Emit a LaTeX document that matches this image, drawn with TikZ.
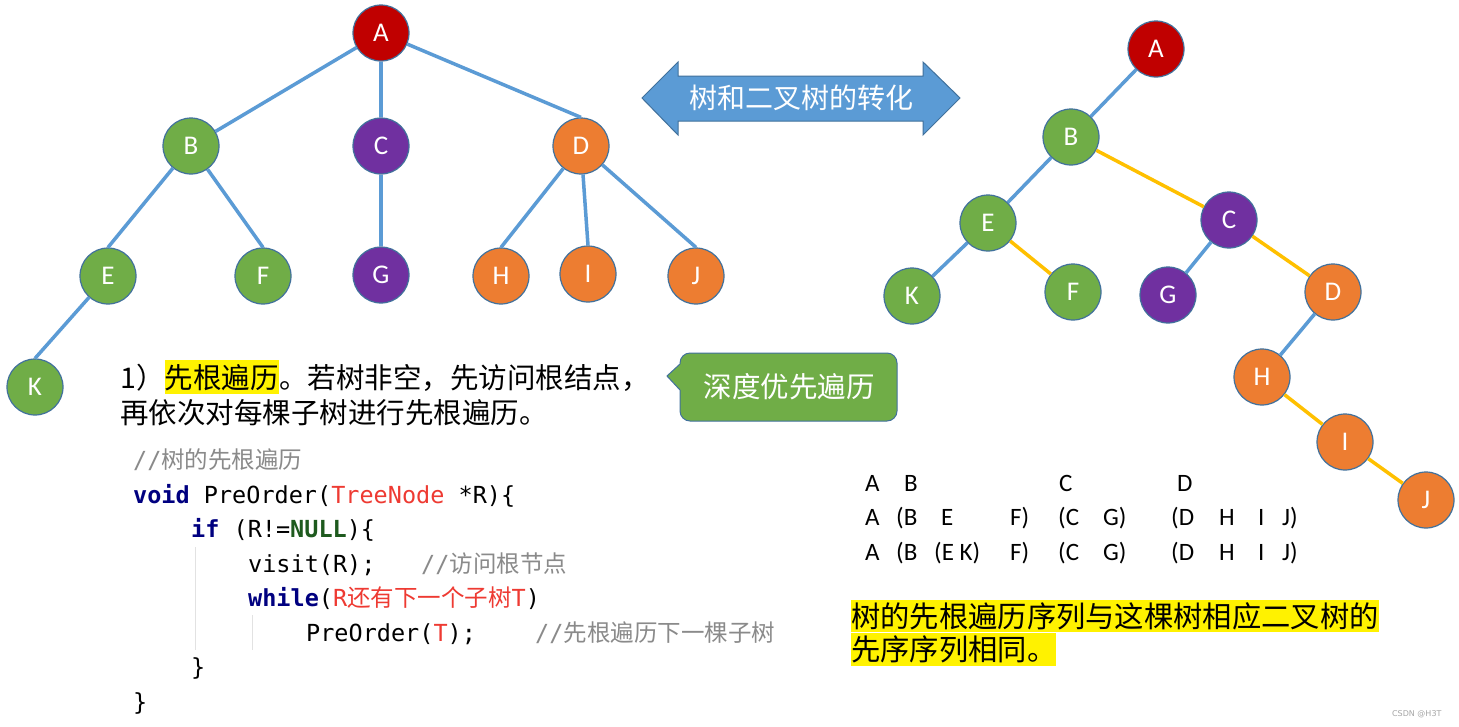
\documentclass[tikz,border=0pt]{standalone}
\usepackage{fontspec}
\newfontfamily\cjk{Noto Sans CJK SC}
\newfontfamily\calibri{Carlito}
\newfontfamily\wmfont{DejaVu Sans}
\setmonofont{DejaVu Sans Mono}

\definecolor{nodeblue}{HTML}{41719C}
\definecolor{edgeblue}{HTML}{5B9BD5}
\definecolor{edgegold}{HTML}{FFC000}
\definecolor{nodered}{HTML}{C00000}
\definecolor{nodegreen}{HTML}{70AD47}
\definecolor{nodepurple}{HTML}{7030A0}
\definecolor{nodeorange}{HTML}{ED7D31}
\definecolor{kw}{HTML}{000080}
\definecolor{cgreen}{HTML}{1E5A1E}
\definecolor{cred}{HTML}{EE3A32}
\definecolor{cgray}{HTML}{8A8A8A}
\definecolor{guide}{HTML}{E2E2E2}

\tikzset{
  tnode/.style={circle, draw=nodeblue, line width=1.2pt, minimum size=56pt,
    inner sep=0pt, text=white, font=\calibri\fontsize{27}{27}\selectfont},
  rnode/.style={tnode, fill=nodered},
  gnode/.style={tnode, fill=nodegreen},
  pnode/.style={tnode, fill=nodepurple},
  onode/.style={tnode, fill=nodeorange},
  link/.style={draw=edgeblue, line width=3.5pt},
  rlink/.style={draw=edgegold, line width=3.5pt},
  code/.style={anchor=base west, inner sep=0pt, font=\ttfamily\fontsize{23.5}{28}\selectfont},
  seq/.style={anchor=base west, inner sep=0pt, font=\calibri\fontsize{25}{25}\selectfont},
  cn/.style={anchor=base west, inner sep=0pt, font=\cjk\fontsize{28.5}{34}\selectfont},
}

\begin{document}
\begin{tikzpicture}[x=1pt, y=-1pt]
    \useasboundingbox[fill=white] (0,0) rectangle (1459,726);

    % tree
    \node[rnode] (A) at (381,33) {A};
    \node[gnode] (B) at (191,146) {B};
    \node[pnode] (C) at (381,146) {C};
    \node[onode] (D) at (581,146) {D};
    \node[gnode] (E) at (108,276) {E};
    \node[gnode] (F) at (263,276) {F};
    \node[pnode] (G) at (381,275) {G};
    \node[onode] (H) at (501,276) {H};
    \node[onode] (I) at (588,274) {I};
    \node[onode] (J) at (696,276) {J};
    \node[gnode] (K) at (35,387) {K};
    \draw[link] (A) -- (B);
    \draw[link] (A) -- (C);
    \draw[link] (A) -- (D.north);
    \draw[link] (B) -- (E.north);
    \draw[link] (B) -- (F.north);
    \draw[link] (C) -- (G);
    \draw[link] (D) -- (H.north);
    \draw[link] (D) -- (I.north);
    \draw[link] (D) -- (J.north);
    \draw[link] (E) -- (K.north);

    % binary tree
    \node[rnode] (bA) at (1156,49) {A};
    \node[gnode] (bB) at (1071,137) {B};
    \node[gnode] (bE) at (988,223) {E};
    \node[pnode] (bC) at (1229,220) {C};
    \node[gnode] (bK) at (912,296) {K};
    \node[gnode] (bF) at (1073,292) {F};
    \node[pnode] (bG) at (1168,295) {G};
    \node[onode] (bD) at (1333,292) {D};
    \node[onode] (bH) at (1262,377) {H};
    \node[onode] (bI) at (1345,442) {I};
    \node[onode] (bJ) at (1426,500) {J};
    \draw[link] (bA) -- (bB);
    \draw[link] (bB) -- (bE);
    \draw[rlink] (bB) -- (bC);
    \draw[link] (bE) -- (bK);
    \draw[rlink] (bE) -- (bF);
    \draw[link] (bC) -- (bG);
    \draw[rlink] (bC) -- (bD);
    \draw[link] (bD) -- (bH);
    \draw[rlink] (bH) -- (bI);
    \draw[rlink] (bI) -- (bJ);

    % double arrow
    \draw[fill=edgeblue, draw=nodeblue, line width=1pt]
        (642,98) -- (678,62) -- (678,76) -- (923,76) -- (923,62) -- (960,98)
        -- (923,135) -- (923,121) -- (678,121) -- (678,135) -- cycle;
    \node[text=white, font=\cjk\fontsize{28}{28}\selectfont] (conv) at (801,98) {树和二叉树的转化};

    % callout
    \draw[fill=nodegreen, draw=nodeblue, line width=1pt]
        (667,376) -- (680,364) [rounded corners=10pt] -- (680,353) -- (897,353)
        -- (897,421) -- (680,421) [sharp corners] -- (680,390) -- cycle;
    \node[text=white, font=\cjk\fontsize{28.5}{28}\selectfont] (dfs) at (789,387) {深度优先遍历};

    % text
    \node[cn] (t1) at (120,388) {1）};
    \node[cn, fill=yellow, inner ysep=4pt] (t2) at (t1.base east) {先根遍历};
    \node[cn] (t3) at (t2.base east) {。若树非空，先访问根结点，};
    \node[cn] (t4) at (120,423) {再依次对每棵子树进行先根遍历。};

    % code
    \draw[guide, line width=1pt] (195,547) -- (195,650);
    \draw[guide, line width=1pt] (252,615) -- (252,650);
    \node[code, text=cgray] (c1) at (133,468) {//{\cjk 树的先根遍历}};
    \node[code] (c2) at (133,503) {\textcolor{kw}{\bfseries void} PreOrder(\textcolor{cred}{TreeNode} *R)\{};
    \node[code] (c3) at (191,537) {\textcolor{kw}{\bfseries if} (R!=\textcolor{cgreen}{\bfseries NULL})\{};
    \node[code] (c4) at (248,572) {visit(R);};
    \node[code, text=cgray] (c4c) at (421,572) {//{\cjk 访问根节点}};
    \node[code] (c5) at (248,606) {\textcolor{kw}{\bfseries while}(\textcolor{cred}{R{\cjk 还有下一个子树}T})};
    \node[code] (c6) at (306,641) {PreOrder(\textcolor{cred}{T});};
    \node[code, text=cgray] (c6c) at (535,641) {//{\cjk 先根遍历下一棵子树}};
    \node[code] (c7) at (191,675) {\}};
    \node[code] (c8) at (133,710) {\}};

    % sequences
    \foreach \x/\t [count=\i] in {865/A, 904/B, 1059/C, 1177/D}
        \node[seq] (s1-\i) at (\x,491) {\t};
    \foreach \x/\t [count=\i] in {865/A, 896/{(B}, 941/E, 1010/{F)}, 1058/{(C}, 1103/{G)}, 1171/{(D}, 1219/H, 1258/I, 1282/{J)}}
        \node[seq] (s2-\i) at (\x,525) {\t};
    \foreach \x/\t [count=\i] in {865/A, 896/{(B}, 934/{(E K)}, 1010/{F)}, 1058/{(C}, 1103/{G)}, 1171/{(D}, 1219/H, 1258/I, 1282/{J)}}
        \node[seq] (s3-\i) at (\x,560) {\t};

    \node[anchor=north west, fill=yellow, inner xsep=0pt, inner ysep=2pt,
        font=\cjk\fontsize{29.3}{34}\selectfont] (n1) at (851,600) {树的先根遍历序列与这棵树相应二叉树的};
    \node[anchor=north west, fill=yellow, inner xsep=0pt, inner ysep=3pt,
        font=\cjk\fontsize{29.3}{34}\selectfont] (n2) at (851,633) {先序序列相同。};

    \node[anchor=base east, text=gray!70, font=\wmfont\fontsize{8}{8}\selectfont] (wm) at (1445,716) {CSDN @H3T};
\end{tikzpicture}
\end{document}
